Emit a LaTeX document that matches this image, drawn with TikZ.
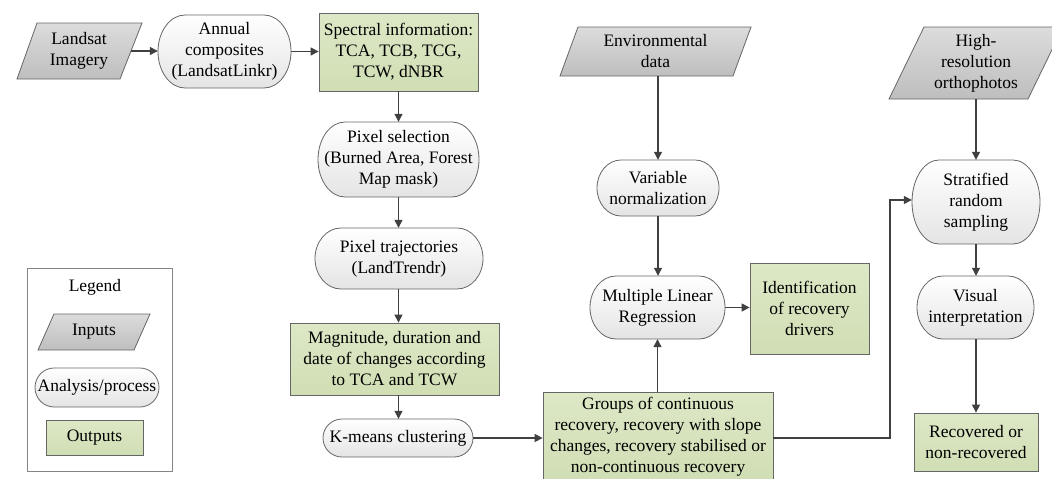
\documentclass[tikz,border=0pt]{standalone}
\usepackage{fontspec}
\setmainfont{Liberation Serif}
\newfontfamily\figfont{Liberation Serif}
\usetikzlibrary{arrows.meta,calc}
\definecolor{inpTop}{HTML}{DCDCDC}
\definecolor{inpBot}{HTML}{BEBEBE}
\definecolor{procBot}{HTML}{E4E4E4}
\definecolor{outTop}{HTML}{DDE8C6}
\definecolor{outBot}{HTML}{D0DEB4}
\definecolor{edgeCol}{HTML}{666666}
\definecolor{arrCol}{HTML}{404040}
\tikzset{
  txt/.style={font=\figfont\fontsize{17.5}{21}\selectfont, align=center, inner sep=0pt, text=black},
  inshape/.style={draw=edgeCol, line width=0.8pt, top color=inpTop, bottom color=inpBot},
  procshape/.style={draw=edgeCol, line width=0.8pt, top color=white, bottom color=procBot},
  outbox/.style={txt, draw=edgeCol, line width=0.8pt, top color=outTop, bottom color=outBot},
  arr/.style={draw=arrCol, line width=1.2pt, -{Triangle[length=8pt,width=8pt]}}
}
% input parallelogram: name, bottom-left x, top-left x, top-right x, bottom-right x, top y, bottom y, text
\newcommand\inpbox[8]{%
  \path[inshape] (#2,#7) -- (#3,#6) -- (#4,#6) -- (#5,#7) -- cycle;
  \node[txt, minimum width={(#4+#5-#3-#2)/2}, minimum height={#7-#6}] (#1)
    at ({(#2+#3+#4+#5)/4},{(#6+#7)/2}) {#8};
}
% process: name, cx, cy, half width, half height, end radius, text
\newcommand\procbox[7]{%
  \path[procshape] ({#2-#4+#6},{#3-#5}) -- ({#2+#4-#6},{#3-#5})
    arc[start angle=90, end angle=-90, x radius=#6pt, y radius=#5pt]
    -- ({#2-#4+#6},{#3+#5})
    arc[start angle=270, end angle=90, x radius=#6pt, y radius=#5pt] -- cycle;
  \node[txt, minimum width={2*#4}, minimum height={2*#5}] (#1) at (#2,#3) {#7};
}
\begin{document}
\begin{tikzpicture}[x=1pt, y=-1pt]
\useasboundingbox (0,0) rectangle (1052,479);
\fill[white] (0,0) rectangle (1052,479);

% left column
\inpbox{land}{17}{37}{142}{120}{23}{79}{Landsat\\Imagery}
\procbox{annual}{224.5}{51.5}{66.5}{36.5}{27}{Annual\\composites\\(LandsatLinkr)}
\node[outbox, minimum width=159, minimum height=78] (spec) at (398.5,52)
  {Spectral information:\\TCA, TCB, TCG,\\TCW, dNBR};
\procbox{pixsel}{398.5}{159.5}{80.5}{37.5}{27}{Pixel selection\\(Burned Area, Forest\\Map mask)}
\procbox{traj}{399}{258.5}{84}{30.5}{26}{Pixel trajectories\\(LandTrendr)}
\node[outbox, minimum width=209, minimum height=72] (mag) at (394.5,359)
  {Magnitude, duration and\\date of changes according\\to TCA and TCW};
\procbox{kmeans}{398}{438}{75}{19}{19}{K-means clustering}

% middle column
\node[outbox, minimum width=230, minimum height=90] (groups) at (658,437)
  {Groups of continuous\\recovery, recovery with slope\\changes, recovery stabilised or\\non-continuous recovery};
\inpbox{env}{560}{578}{751}{733}{27}{76}{Environmental\\data}
\procbox{varn}{658}{188}{61}{28}{24}{Variable\\normalization}
\procbox{mlr}{657.5}{307.5}{67.5}{31.5}{26}{Multiple Linear\\Regression}
\node[outbox, minimum width=119, minimum height=91] (ident) at (809.5,308.5)
  {Identification\\of recovery\\drivers};

% right column
\inpbox{hires}{889}{924}{1063}{1028}{27}{99}{High-\\resolution\\orthophotos}
\procbox{strat}{976}{202}{64}{42}{27}{Stratified\\random\\sampling}
\procbox{visual}{975.5}{307.5}{58.5}{31.5}{26}{Visual\\interpretation}
\node[outbox, minimum width=124, minimum height=58] (recov) at (976,442)
  {Recovered or\\non-recovered};

% legend
\node[draw=edgeCol!80, line width=0.6pt, minimum width=145, minimum height=203, inner sep=0pt] (legend) at (99.5,369.5) {};
\node[txt] (legtitle) at (95,287) {Legend};
\inpbox{leginp}{38}{54}{150}{134}{314}{350}{Inputs}
\procbox{legproc}{97}{387.5}{62}{19.5}{19}{Analysis/process}
\node[outbox, minimum width=97, minimum height=35] (legout) at (94.5,437.5) {Outputs};

% connectors
\draw[arr] (land.east) -- (annual.west |- land.east);
\draw[arr] (annual.east) -- (spec.west |- annual.east);
\draw[arr] (spec.south) -- (pixsel.north);
\draw[arr] (pixsel.south) -- (traj.north -| pixsel.south);
\draw[arr] (traj.south -| pixsel.south) -- (mag.north -| pixsel.south);
\draw[arr] (mag.south -| pixsel.south) -- (kmeans.north -| pixsel.south);
\draw[arr] (kmeans.east) -- (groups.west |- kmeans.east);
\draw[arr] (groups.north -| mlr.south) -- (mlr.south);
\draw[arr] (env.south -| varn.north) -- (varn.north);
\draw[arr] (varn.south) -- (mlr.north -| varn.south);
\draw[arr] (mlr.east) -- (ident.west |- mlr.east);
\coordinate (elb) at (890,200);
\draw[arr] (groups.east |- kmeans.east) -| (elb) -- (strat.west |- elb);
\draw[arr] (hires.south -| strat.north) -- (strat.north);
\draw[arr] (strat.south) -- (visual.north -| strat.south);
\draw[arr] (visual.south -| strat.south) -- (recov.north -| strat.south);
\end{tikzpicture}
\end{document}
